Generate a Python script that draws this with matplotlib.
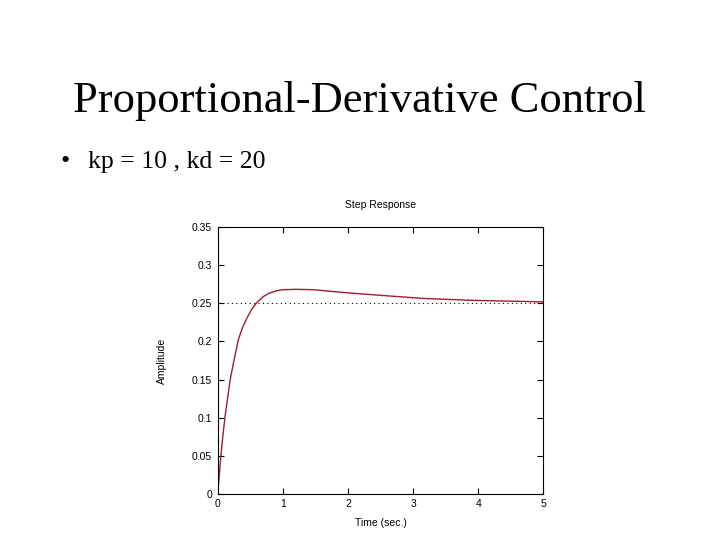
import matplotlib
matplotlib.use('Agg')
import matplotlib.pyplot as plt

# step response
time_sec = [0, 0.03, 0.061, 0.112, 0.19, 0.24, 0.316, 0.38, 0.445, 0.52, 0.6, 0.7,
            0.78, 0.9, 1.0, 1.2, 1.47, 1.98, 2.6, 3.16, 3.93, 5.0]
amplitude = [0, 0.03, 0.0615, 0.101, 0.149, 0.171, 0.202, 0.218, 0.230, 0.242, 0.251, 0.259,
             0.263, 0.2665, 0.268, 0.2685, 0.268, 0.264, 0.260, 0.2565, 0.254, 0.252]
final_value = 0.25

x_ticks = [0, 1, 2, 3, 4, 5]
y_ticks = [0, 0.05, 0.1, 0.15, 0.2, 0.25, 0.3, 0.35]
y_tick_labels = ['0', '0.05', '0.1', '0.15', '0.2', '0.25', '0.3', '0.35']

fig = plt.figure(figsize=(7.2, 5.4), dpi=100)
fig.patch.set_facecolor('white')

serif = ['Liberation Serif', 'DejaVu Serif']
sans = ['Liberation Sans', 'DejaVu Sans']

fig.text(359 / 720, 1 - 112 / 540, 'Proportional-Derivative Control', ha='center', va='baseline',
         fontsize=32, family=serif)
fig.text(60 / 720, 1 - 168 / 540, '\u2022', ha='left', va='baseline', fontsize=19, family=serif)
fig.text(88 / 720, 1 - 168 / 540, 'kp = 10 , kd = 20', ha='left', va='baseline', fontsize=18.5, family=serif)

ax = fig.add_axes([217.7 / 720, 1 - 493.7 / 540, 325.6 / 720, 266.4 / 540])
ax.plot(time_sec, amplitude, color='#a01c30', linewidth=1.0)
ax.axhline(final_value, color='black', linestyle=(0, (1, 3)), linewidth=0.8)

ax.set_xlim(0, 5)
ax.set_ylim(0, 0.35)
ax.set_xticks(x_ticks)
ax.set_yticks(y_ticks)
ax.set_yticklabels(y_tick_labels)
ax.tick_params(direction='in', length=4, top=True, right=True, labelsize=7.5, pad=4)
for lab in ax.get_xticklabels() + ax.get_yticklabels():
    lab.set_family(sans)
for sp in ax.spines.values():
    sp.set_linewidth(0.8)

ax.set_title('Step Response', fontsize=7.5, family=sans, pad=14)
ax.set_xlabel('Time (sec.)', fontsize=7.5, family=sans, labelpad=6)
ax.set_ylabel('Amplitude', fontsize=7.5, family=sans, labelpad=18)

fig.savefig('out.png', dpi=100)
